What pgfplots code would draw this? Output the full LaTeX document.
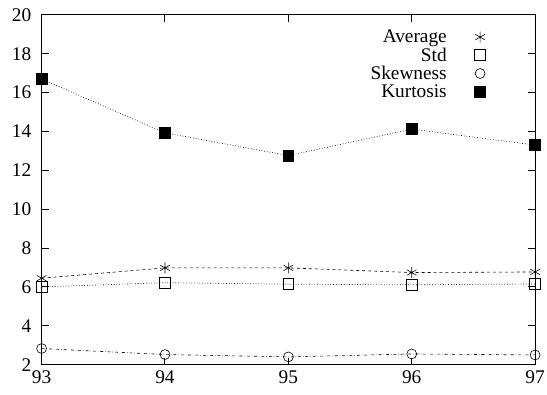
\documentclass[border=0pt]{standalone}
\usepackage{pgfplots}
\pgfplotsset{compat=1.18}
\usepackage{fontspec}
\setmainfont{Liberation Serif}
\begin{document}
\begin{tikzpicture}
\useasboundingbox (-42pt,-30pt) rectangle (510pt,368pt);
\begin{axis}[
  scale only axis,
  width=498pt, height=353pt,
  xmin=93, xmax=97, ymin=2, ymax=20,
  xtick={93,94,95,96,97},
  ytick={2,4,...,20},
  tick align=inside,
  major tick length=7pt,
  tick label style={font=\fontsize{19.5}{21}\selectfont},
  yticklabel style={xshift=-7pt},
  xticklabel style={yshift=-3pt},
  /pgf/number format/assume math mode=true,
  axis line style={line width=1pt},
  every tick/.style={black, line width=1pt},
  legend cell align=right,
  legend plot pos=right,
  legend style={draw=none, fill=none, at={(rel axis cs:0.9,0.963)}, anchor=north east,
    inner sep=0pt, font=\fontsize{19.5}{19.5}\selectfont, row sep=-0.5pt},
  legend image code/.code={\path (0cm,0cm) (1.1cm,0cm); \draw[#1,solid] plot[only marks] coordinates {(1.1cm,0cm)};},
  mark options={solid},
]
\addplot[black, dashed, line width=0.6pt, mark=asterisk, mark size=5.5pt] coordinates {
(93,6.45) (94,6.98) (95,6.98) (96,6.74) (97,6.77)};
\addlegendentry{Average}
\addplot[black, dotted, line width=0.7pt, mark=square, mark size=5.5pt] coordinates {
(93,6.0) (94,6.22) (95,6.14) (96,6.11) (97,6.15)};
\addlegendentry{Std}
\addplot[black, dash dot, line width=0.6pt, mark=o, mark size=5pt] coordinates {
(93,2.83) (94,2.52) (95,2.4) (96,2.55) (97,2.5)};
\addlegendentry{Skewness}
\addplot[black, dotted, line width=0.7pt, mark=square*, mark size=5.5pt] coordinates {
(93,16.7) (94,13.93) (95,12.76) (96,14.12) (97,13.3)};
\addlegendentry{Kurtosis}
\end{axis}
\end{tikzpicture}
\end{document}
